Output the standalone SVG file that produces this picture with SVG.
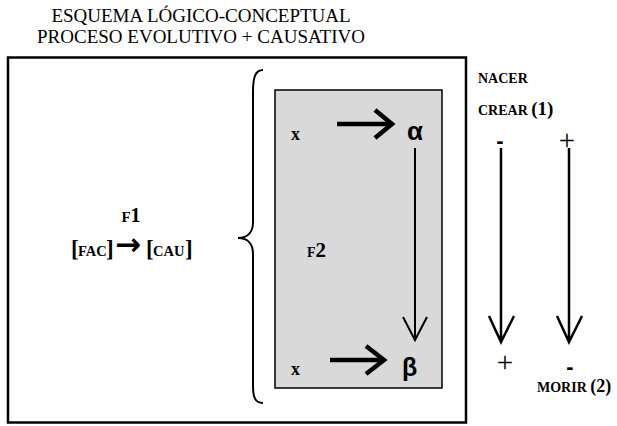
<svg xmlns="http://www.w3.org/2000/svg" width="617" height="426" viewBox="0 0 617 426">
<style>
.t{font-family:"Liberation Serif","Times New Roman",serif;fill:#000}
.b{font-weight:bold}
.thick{fill:none;stroke:#000;stroke-width:4.5;stroke-linecap:butt;stroke-linejoin:miter}
.thin{fill:none;stroke:#000;stroke-width:2}
.sym{font-family:"Liberation Sans",Arial,sans-serif;fill:#000}
</style>
<rect width="617" height="426" fill="#fff"/>
<g id="title">
<text class="t" x="201" y="22" font-size="19" text-anchor="middle">ESQUEMA LÓGICO-CONCEPTUAL</text>
<text class="t" x="201" y="43" font-size="19" text-anchor="middle">PROCESO EVOLUTIVO + CAUSATIVO</text>
</g>
<g id="outer-box">
<rect x="8" y="57.5" width="458" height="365" fill="none" stroke="#000" stroke-width="2.5"/>
</g>
<g id="f1">
<text class="t b" x="131" y="222" text-anchor="middle"><tspan font-size="15">F</tspan><tspan font-size="20">1</tspan></text>
<text class="t b" y="256"><tspan x="71" font-size="23">[</tspan><tspan x="78" font-size="14.5">FAC</tspan><tspan x="106" font-size="23">]</tspan><tspan x="115" font-family="DejaVu Sans" font-size="31" dy="-1">→</tspan><tspan x="146" font-size="23" dy="1">[</tspan><tspan x="153" font-size="14.5">CAU</tspan><tspan x="185" font-size="23">]</tspan></text>
</g>
<g id="brace">
<path d="M263,70 C255,70 253,78 253,92 L253,222 C253,233 247,238 238,238 C247,238 253,243 253,254 L253,386 C253,397 255,403 263,403" fill="none" stroke="#000" stroke-width="2"/>
</g>
<g id="f2-box">
<rect x="275" y="90" width="167" height="298" fill="#d9d9d9" stroke="#000" stroke-width="1.5"/>
<text class="t b" x="307" y="257"><tspan font-size="14">F</tspan><tspan font-size="21">2</tspan></text>
</g>
<g id="x-top"><text class="t b" x="291" y="140" font-size="18">x</text></g>
<g id="alpha"><text class="sym b" x="407" y="140" font-size="26">α</text></g>
<g id="x-bottom"><text class="t b" x="291" y="375" font-size="18">x</text></g>
<g id="beta"><text class="sym b" x="402" y="376" font-size="25">β</text></g>
<g id="nacer">
<text class="t b" x="478" y="83" font-size="14">NACER</text>
<text class="t b" x="478" y="115"><tspan font-size="14">CREAR </tspan><tspan font-size="19">(1)</tspan></text>
</g>
<g id="morir">
<text class="t b" x="537" y="392"><tspan font-size="14">MORIR </tspan><tspan font-size="18">(2)</tspan></text>
</g>
<g id="signs">
<text class="sym b" x="500" y="148" font-size="22" text-anchor="middle">-</text>
<text class="t" x="567" y="150" font-size="29" text-anchor="middle" fill="#000">+</text>
<text class="t" x="505" y="372" font-size="29" text-anchor="middle" fill="#000">+</text>
<text class="sym b" x="570" y="374" font-size="22" text-anchor="middle">-</text>
</g>
<g id="connectors">
<path class="thick" d="M337,124 L390,124 M375,110 L392,124 L375,138"/>
<path class="thick" d="M330,360 L383,360 M366,346 L384,360 L366,374"/>
<path class="thin" d="M415,148 L415,339 M403,317 L415,340 L427,317"/>
<path class="thin" d="M501,148 L501,340 M489,316 L501,342 L514,316" style="stroke-width:2.5"/>
<path class="thin" d="M569,148 L569,340 M557,316 L569,342 L582,316" style="stroke-width:2.5"/>
</g>
</svg>
